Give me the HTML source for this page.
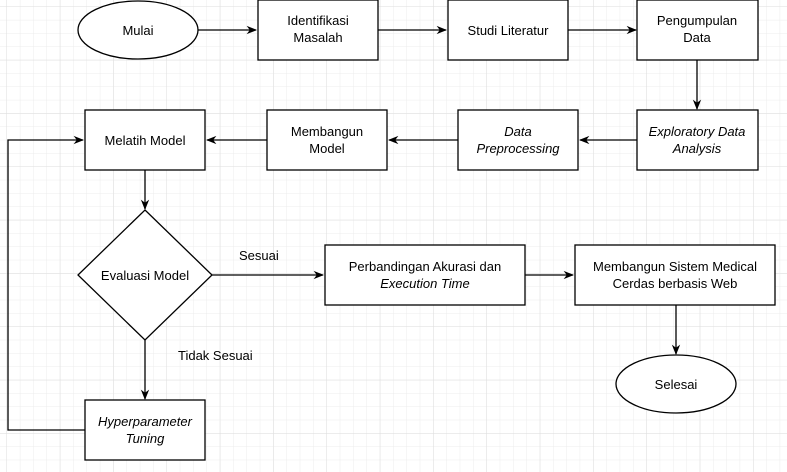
<!DOCTYPE html>
<html><head><meta charset="utf-8"><style>
html,body{margin:0;padding:0;background:#fff}
svg{display:block}
text{font-family:"Liberation Sans",Arial,sans-serif;font-size:13px;fill:#000}
</style></head><body>
<svg width="787" height="472" viewBox="0 0 787 472" xmlns="http://www.w3.org/2000/svg">
<defs>
<pattern id="g" width="13.33" height="13.33" patternUnits="userSpaceOnUse" x="7" y="7">
<path d="M13.33 0V13.33M0 13.33H13.33" fill="none" stroke="#ececec" stroke-width="1"/>
</pattern>
<pattern id="G" width="53.33" height="53.33" patternUnits="userSpaceOnUse" x="7" y="7">
<path d="M53.33 0V53.33M0 53.33H53.33" fill="none" stroke="#dedede" stroke-width="1"/>
</pattern>
<marker id="a" viewBox="0 0 10 10" refX="9" refY="5" markerWidth="8" markerHeight="8" orient="auto">
<path d="M0,1 L10,5 L0,9 L3,5 Z" fill="#000"/>
</marker>
</defs>
<rect width="787" height="472" fill="url(#g)"/>
<rect width="787" height="472" fill="url(#G)"/>
<g stroke="#000" stroke-width="1.3" fill="none">
<line x1="198" y1="30" x2="256" y2="30" marker-end="url(#a)"/>
<line x1="378" y1="30" x2="446" y2="30" marker-end="url(#a)"/>
<line x1="568" y1="30" x2="636" y2="30" marker-end="url(#a)"/>
<line x1="697" y1="60" x2="697" y2="109" marker-end="url(#a)"/>
<line x1="637" y1="140" x2="580" y2="140" marker-end="url(#a)"/>
<line x1="458" y1="140" x2="389" y2="140" marker-end="url(#a)"/>
<line x1="267" y1="140" x2="207" y2="140" marker-end="url(#a)"/>
<line x1="145" y1="170" x2="145" y2="209" marker-end="url(#a)"/>
<line x1="212" y1="275" x2="323" y2="275" marker-end="url(#a)"/>
<line x1="525" y1="275" x2="573" y2="275" marker-end="url(#a)"/>
<line x1="676" y1="305" x2="676" y2="354" marker-end="url(#a)"/>
<line x1="145" y1="340" x2="145" y2="399" marker-end="url(#a)"/>
<polyline points="85,430 8,430 8,140 83,140" marker-end="url(#a)"/>
</g>
<g stroke="#000" stroke-width="1.3" fill="#fff">
<ellipse cx="138" cy="30" rx="60" ry="29"/>
<rect x="258" y="0" width="120" height="60"/>
<rect x="448" y="0" width="120" height="60"/>
<rect x="637" y="0" width="121" height="60"/>
<rect x="637" y="110" width="121" height="60"/>
<rect x="458" y="110" width="120" height="60"/>
<rect x="267" y="110" width="120" height="60"/>
<rect x="85" y="110" width="120" height="60"/>
<polygon points="145,210 212,275 145,340 78,275"/>
<rect x="325" y="245" width="200" height="60"/>
<rect x="575" y="245" width="200" height="60"/>
<ellipse cx="676" cy="384" rx="60" ry="29"/>
<rect x="85" y="400" width="120" height="60"/>
</g>
<g text-anchor="middle">
<text x="138" y="35">Mulai</text>
<text x="318" y="25">Identifikasi</text><text x="318" y="42">Masalah</text>
<text x="508" y="35">Studi Literatur</text>
<text x="697" y="25">Pengumpulan</text><text x="697" y="42">Data</text>
<text x="697" y="136" font-style="italic">Exploratory Data</text><text x="697" y="153" font-style="italic">Analysis</text>
<text x="518" y="136" font-style="italic">Data</text><text x="518" y="153" font-style="italic">Preprocessing</text>
<text x="327" y="136">Membangun</text><text x="327" y="153">Model</text>
<text x="145" y="145">Melatih Model</text>
<text x="145" y="280">Evaluasi Model</text>
<text x="425" y="271">Perbandingan Akurasi dan</text><text x="425" y="288" font-style="italic">Execution Time</text>
<text x="675" y="271">Membangun Sistem Medical</text><text x="675" y="288">Cerdas berbasis Web</text>
<text x="676" y="389">Selesai</text>
<text x="145" y="426" font-style="italic">Hyperparameter</text><text x="145" y="443" font-style="italic">Tuning</text>
</g>
<text x="239" y="260">Sesuai</text>
<text x="178" y="360">Tidak Sesuai</text>
</svg>
</body></html>
